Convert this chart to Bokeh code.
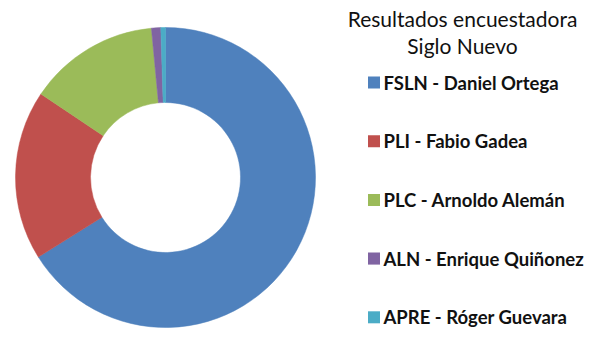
import math
from bokeh.plotting import figure
from bokeh.models import Range1d, ColumnDataSource
from bokeh.core.properties import value
from bokeh.embed import file_html
from bokeh.resources import INLINE

# ---- data ----
title_lines = ["Resultados encuestadora", "Siglo Nuevo"]
labels = ["FSLN - Daniel Ortega", "PLI - Fabio Gadea", "PLC - Arnoldo Alemán",
          "ALN - Enrique Quiñonez", "APRE - Róger Guevara"]
shares = [66.1, 18.3, 14.1, 1.0, 0.5]
colors = ["#4F81BD", "#C0504D", "#9BBB59", "#8064A2", "#4BACC6"]

W, H = 607, 354
p = figure(width=W, height=H, output_backend="svg", toolbar_location=None,
           x_range=Range1d(0, W), y_range=Range1d(H, 0), min_border=0)
p.axis.visible = False
p.grid.visible = False
p.outline_line_color = None
p.background_fill_color = "white"
p.border_fill_color = "white"

# donut: clockwise from 12 o'clock
total = sum(shares)
starts, ends = [], []
acc = 0.0
for s in shares:
    a0 = acc / total * 2 * math.pi
    acc += s
    a1 = acc / total * 2 * math.pi
    starts.append(math.pi / 2 - a0)
    ends.append(math.pi / 2 - a1)

cx, cy, r_out, r_in = 165, 177, 150, 75
src = ColumnDataSource(dict(start=starts, end=ends, color=colors))
p.annular_wedge(x=cx, y=cy, inner_radius=r_in, outer_radius=r_out,
                start_angle="start", end_angle="end", direction="clock",
                color="color", line_color="color", line_width=0.5, source=src)

# title
p.text(x=[462, 462], y=[18, 45], text=title_lines, text_font=value("Lato"),
       text_font_size="21px", text_align="center", text_baseline="middle",
       text_color="#111111")

# legend
ys = [82 + i * 58.7 for i in range(len(labels))]
p.rect(x=[373.5] * len(labels), y=ys, width=12, height=12, fill_color=colors,
       line_color=None)
p.text(x=[383] * len(labels), y=ys, text=labels, text_font=value("Lato"),
       text_font_size="18.5px", text_font_style="bold", text_align="left",
       text_baseline="middle", text_color="#111111")

open("out.html", "w").write(file_html(p, INLINE))
